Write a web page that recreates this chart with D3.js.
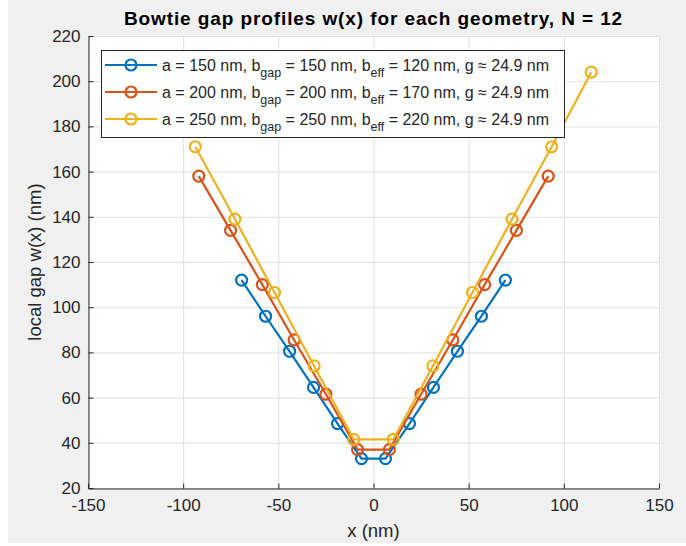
<!DOCTYPE html>
<html>
<head>
<meta charset="utf-8">
<script src="https://cdn.jsdelivr.net/npm/d3@7"></script>
<style>
  body { margin: 0; background: #fff; }
  text { font-family: "Liberation Sans", Arial, sans-serif; fill: #262626; }
</style>
</head>
<body>
<svg id="fig" width="686" height="546"></svg>
<script>
// values
var x150 = [-69.3, -56.7, -44.1, -31.5, -18.9, -6.3, 6.3, 18.9, 31.5, 44.1, 56.7, 69.3];
var w150 = [112, 96, 80.5, 64.5, 48.5, 33, 33, 48.5, 64.5, 80.5, 96, 112];
var x200 = [-91.8, -75.1, -58.4, -41.7, -25, -8.35, 8.35, 25, 41.7, 58.4, 75.1, 91.8];
var w200 = [158, 134, 110, 85.5, 61.5, 37, 37, 61.5, 85.5, 110, 134, 158];
var x250 = [-93.6, -72.8, -52, -31.2, -10.4, 10.4, 31.2, 52, 72.8, 93.6, 114.4];
var w250 = [171, 139, 106.5, 74, 41.5, 41.5, 74, 106.5, 139, 171, 204];

var xTicks = [-150, -100, -50, 0, 50, 100, 150];
var yTicks = [20, 40, 60, 80, 100, 120, 140, 160, 180, 200, 220];

var seriesColors = ["#0072BD", "#D95319", "#EDB120"];
// legend labels: [a, b_gap, b_eff, g]
var legA = [150, 200, 250];
var legBgap = [150, 200, 250];
var legBeff = [120, 170, 220];
var legG = ["24.9", "24.9", "24.9"];

var series = [
  {xs: x150, ys: w150},
  {xs: x200, ys: w200},
  {xs: x250, ys: w250}
];

var svg = d3.select("#fig");
var padL = 88, padT = 36, padR = 659, padB = 488;

// grey figure background
svg.append("rect")
  .attr("x", 8).attr("y", 0)
  .attr("width", 678).attr("height", 543)
  .attr("fill", "#f0f0f0");

var x = d3.scaleLinear().domain([-150, 150]).range([padL, padR]);
var y = d3.scaleLinear().domain([20, 220]).range([padB, padT]);

svg.append("rect")
  .attr("x", padL).attr("y", padT)
  .attr("width", padR - padL).attr("height", padB - padT)
  .attr("fill", "#fff");

// grid
var grid = svg.append("g").attr("stroke", "#dfdfdf").attr("stroke-width", 1);
grid.selectAll("line.gx").data(xTicks).enter().append("line")
  .attr("x1", function(d) { return x(d) + 0.5; })
  .attr("x2", function(d) { return x(d) + 0.5; })
  .attr("y1", padT).attr("y2", padB);
grid.selectAll("line.gy").data(yTicks).enter().append("line")
  .attr("y1", function(d) { return y(d) + 0.5; })
  .attr("y2", function(d) { return y(d) + 0.5; })
  .attr("x1", padL).attr("x2", padR);

// axes (ticks point inwards like matlab, plain hyphen minus)
var fmt = function(d) { return String(d); };
var xAxis = d3.axisBottom(x).tickValues(xTicks).tickFormat(fmt).tickSizeInner(-5).tickSizeOuter(0).tickPadding(10);
var yAxis = d3.axisLeft(y).tickValues(yTicks).tickFormat(fmt).tickSizeInner(-5).tickSizeOuter(0).tickPadding(8);

var gx = svg.append("g").attr("transform", "translate(0," + (padB + 0.5) + ")").call(xAxis);
var gy = svg.append("g").attr("transform", "translate(" + (padL + 0.5) + ",0)").call(yAxis);
[gx, gy].forEach(function(g) {
  g.select(".domain").attr("stroke", "#262626");
  g.selectAll(".tick line").attr("stroke", "#262626");
  g.selectAll(".tick text")
    .attr("font-family", "Liberation Sans, Arial, sans-serif")
    .attr("font-size", 17).attr("fill", "#262626");
});

// lines and markers
var line = d3.line()
  .x(function(d) { return x(d[0]); })
  .y(function(d) { return y(d[1]); });

series.forEach(function(s, i) {
  var pts = s.xs.map(function(v, k) { return [v, s.ys[k]]; });
  svg.append("path")
    .datum(pts)
    .attr("d", line)
    .attr("fill", "none")
    .attr("stroke", seriesColors[i])
    .attr("stroke-width", 2.2);
  svg.append("g").selectAll("circle")
    .data(pts)
    .enter().append("circle")
    .attr("cx", function(d) { return x(d[0]); })
    .attr("cy", function(d) { return y(d[1]); })
    .attr("r", 5.5)
    .attr("fill", "none")
    .attr("stroke", seriesColors[i])
    .attr("stroke-width", 2.2);
});

// legend
var leg = svg.append("g");
leg.append("rect")
  .attr("x", 101.5).attr("y", 50.5)
  .attr("width", 463).attr("height", 87)
  .attr("fill", "#fff")
  .attr("stroke", "#262626").attr("stroke-width", 1);

seriesColors.forEach(function(c, i) {
  var cy = 65 + i * 27;
  leg.append("line")
    .attr("x1", 105).attr("x2", 157)
    .attr("y1", cy).attr("y2", cy)
    .attr("stroke", c).attr("stroke-width", 2.2);
  leg.append("circle")
    .attr("cx", 131).attr("cy", cy).attr("r", 5.5)
    .attr("fill", "none").attr("stroke", c).attr("stroke-width", 2.2);
  var t = leg.append("text")
    .attr("x", 162).attr("y", cy + 6)
    .attr("font-size", 16);
  t.append("tspan").text("a = " + legA[i] + " nm, b");
  t.append("tspan").attr("font-size", 12.5).attr("dy", 6).text("gap");
  t.append("tspan").attr("dy", -6).text(" = " + legBgap[i] + " nm, b");
  t.append("tspan").attr("font-size", 12.5).attr("dy", 6).text("eff");
  t.append("tspan").attr("dy", -6).text(" = " + legBeff[i] + " nm, g \u2248 " + legG[i] + " nm");
});

// title and labels
svg.append("text")
  .attr("x", (padL + padR) / 2).attr("y", 25)
  .attr("text-anchor", "middle")
  .attr("font-size", 19).attr("font-weight", "bold")
  .attr("letter-spacing", 0.9)
  .style("fill", "#000")
  .text("Bowtie gap profiles w(x) for each geometry, N = 12");

svg.append("text")
  .attr("x", (padL + padR) / 2).attr("y", 537)
  .attr("text-anchor", "middle")
  .attr("font-size", 18.5)
  .text("x (nm)");

svg.append("text")
  .attr("transform", "translate(41," + ((padT + padB) / 2) + ") rotate(-90)")
  .attr("text-anchor", "middle")
  .attr("font-size", 18.5)
  .text("local gap w(x) (nm)");
</script>
</body>
</html>
